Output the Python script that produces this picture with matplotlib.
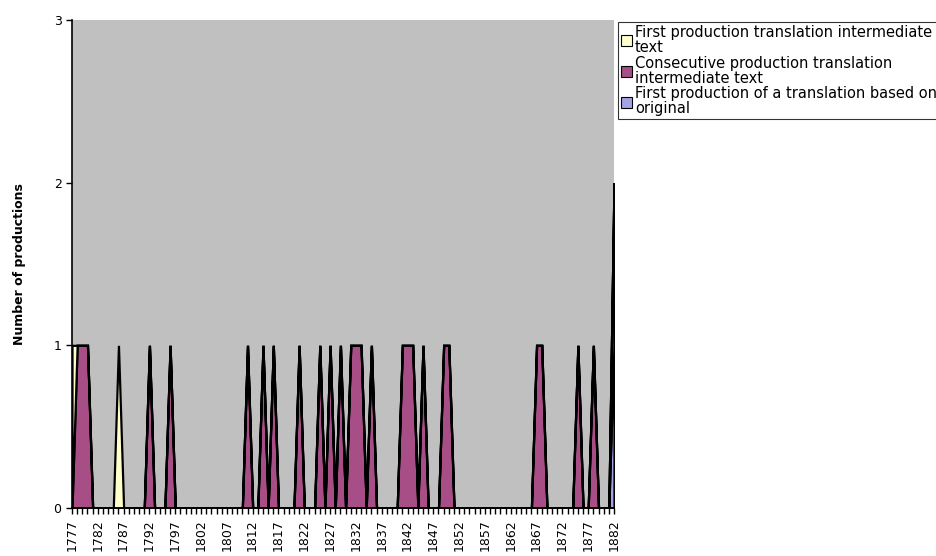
import matplotlib.pyplot as plt
from matplotlib.patches import Patch

# yearly categories 1777..1882
years = list(range(1777, 1883))

# series values, one row per 10 years (last row 1877-1882)
first_original = [
    0, 0, 0, 0, 0, 0, 0, 0, 0, 0,
    0, 0, 0, 0, 0, 0, 0, 0, 0, 0,
    0, 0, 0, 0, 0, 0, 0, 0, 0, 0,
    0, 0, 0, 0, 0, 0, 0, 0, 0, 0,
    0, 0, 0, 0, 0, 0, 0, 0, 0, 0,
    0, 0, 0, 0, 0, 0, 0, 0, 0, 0,
    0, 0, 0, 0, 0, 0, 0, 0, 0, 0,
    0, 0, 0, 0, 0, 0, 0, 0, 0, 0,
    0, 0, 0, 0, 0, 0, 0, 0, 0, 0,
    0, 0, 0, 0, 0, 0, 0, 0, 0, 0,
    0, 0, 0, 0, 0, 1,
]
consecutive_intermediate = [
    0, 1, 1, 1, 0, 0, 0, 0, 0, 0,
    0, 0, 0, 0, 0, 1, 0, 0, 0, 1,
    0, 0, 0, 0, 0, 0, 0, 0, 0, 0,
    0, 0, 0, 0, 1, 0, 0, 1, 0, 1,
    0, 0, 0, 0, 1, 0, 0, 0, 1, 0,
    1, 0, 1, 0, 1, 1, 1, 0, 1, 0,
    0, 0, 0, 0, 1, 1, 1, 0, 1, 0,
    0, 0, 1, 1, 0, 0, 0, 0, 0, 0,
    0, 0, 0, 0, 0, 0, 0, 0, 0, 0,
    1, 1, 0, 0, 0, 0, 0, 0, 1, 0,
    0, 1, 0, 0, 0, 1,
]
first_intermediate = [
    1, 0, 0, 0, 0, 0, 0, 0, 0, 1,
    0, 0, 0, 0, 0, 0, 0, 0, 0, 0,
    0, 0, 0, 0, 0, 0, 0, 0, 0, 0,
    0, 0, 0, 0, 0, 0, 0, 0, 0, 0,
    0, 0, 0, 0, 0, 0, 0, 0, 0, 0,
    0, 0, 0, 0, 0, 0, 0, 0, 0, 0,
    0, 0, 0, 0, 0, 0, 0, 0, 0, 0,
    0, 0, 0, 0, 0, 0, 0, 0, 0, 0,
    0, 0, 0, 0, 0, 0, 0, 0, 0, 0,
    0, 0, 0, 0, 0, 0, 0, 0, 0, 0,
    0, 0, 0, 0, 0, 0,
]

labels = ["First production translation intermediate\ntext",
          "Consecutive production translation\nintermediate text",
          "First production of a translation based on\noriginal"]
c_yellow = "#FFFFCC"
c_plum = "#A64E85"
c_blue = "#A3A3E6"

fig = plt.figure(figsize=(9.36, 5.56), dpi=100)
ax = fig.add_axes([72/936, 1-508/556, (614-72)/936, (508-20)/556])
ax.set_facecolor("#C0C0C0")

polys = ax.stackplot(years, first_original, consecutive_intermediate, first_intermediate,
                     colors=[c_blue, c_plum, c_yellow], edgecolor="black", linewidth=1.6)
for p in polys:
    p.set_joinstyle("miter")

ax.set_xlim(1777, 1882)
ax.set_ylim(0, 3)
ax.set_yticks([0, 1, 2, 3])
ax.set_xticks(years)
ax.set_xticklabels([str(y) if (y - 1777) % 5 == 0 else "" for y in years],
                   rotation=90)
ax.tick_params(axis="both", direction="out", length=4, width=1, labelsize=9,
               color="black")
ax.tick_params(axis="x", pad=4)
for s in ["top", "right"]:
    ax.spines[s].set_visible(False)
for s in ["left", "bottom"]:
    ax.spines[s].set_linewidth(1.2)
ax.set_zorder(1)

fig.text(20/936, 1-264/556, "Number of productions", rotation=90,
         fontweight="bold", fontsize=9, ha="center", va="center")

handles = [Patch(facecolor=c_yellow, edgecolor="black", linewidth=0.8),
           Patch(facecolor=c_plum, edgecolor="black", linewidth=0.8),
           Patch(facecolor=c_blue, edgecolor="black", linewidth=0.8)]
leg = fig.legend(handles, labels, loc="upper left",
                 bbox_to_anchor=(618/936, 1-22/556), fontsize=10.5,
                 frameon=True, fancybox=False, shadow=False,
                 handlelength=0.75, handleheight=0.75, handletextpad=0.2,
                 labelspacing=0.05, borderpad=0.2, borderaxespad=0)
leg.get_frame().set_edgecolor("black")
leg.get_frame().set_linewidth(0.8)
for t in leg.get_texts():
    t.set_linespacing(1.0)

fig.savefig("out.png", dpi=100)
